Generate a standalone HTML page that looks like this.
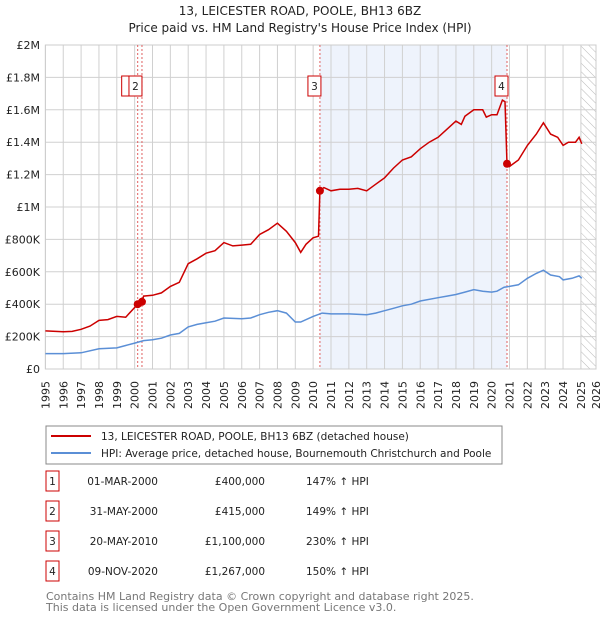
<!DOCTYPE html>
<html><head><meta charset="utf-8"><style>
body{margin:0;background:#fff;font-family:"Liberation Sans","DejaVu Sans",sans-serif;}
svg text{font-family:"DejaVu Sans","Liberation Sans",sans-serif;}
</style></head><body>
<svg width="600" height="620" viewBox="0 0 600 620" xmlns="http://www.w3.org/2000/svg">
<defs><pattern id="hatch" width="6" height="6" patternUnits="userSpaceOnUse" patternTransform="rotate(-45)"><line x1="0" y1="0" x2="0" y2="6" stroke="#bbb" stroke-width="1"/></pattern></defs>
<text x="300" y="15" text-anchor="middle" font-size="12" fill="#222">13, LEICESTER ROAD, POOLE, BH13 6BZ</text>
<text x="300" y="32" text-anchor="middle" font-size="12" fill="#222">Price paid vs. HM Land Registry's House Price Index (HPI)</text>
<g id="plot"></g>
<g>
<rect x="46" y="426" width="456" height="38" fill="#fff" stroke="#888"/>
<line x1="51" y1="436" x2="91" y2="436" stroke="#cc0000" stroke-width="2"/>
<text x="101" y="440" font-size="10.5" fill="#222">13, LEICESTER ROAD, POOLE, BH13 6BZ (detached house)</text>
<line x1="51" y1="453" x2="91" y2="453" stroke="#5b8fd6" stroke-width="2"/>
<text x="101" y="457" font-size="10.5" fill="#222">HPI: Average price, detached house, Bournemouth Christchurch and Poole</text>
</g>
<g id="table" font-size="10.5" fill="#222"></g>
<text x="46" y="600" font-size="11" fill="#777">Contains HM Land Registry data © Crown copyright and database right 2025.</text>
<text x="46" y="611" font-size="11" fill="#777">This data is licensed under the Open Government Licence v3.0.</text>
</svg>
<script>
const redYears=[1995,1996,1996.5,1997,1997.5,1998,1998.5,1999,1999.5,2000.17,2000.41,2000.5,2001,2001.5,2002,2002.5,2003,2003.5,2004,2004.5,2005,2005.5,2006,2006.5,2007,2007.5,2008,2008.5,2009,2009.3,2009.6,2010,2010.3,2010.38,2010.6,2011,2011.5,2012,2012.5,2013,2013.5,2014,2014.5,2015,2015.5,2016,2016.5,2017,2017.5,2018,2018.3,2018.5,2019,2019.5,2019.7,2020,2020.3,2020.6,2020.75,2020.86,2021,2021.5,2022,2022.5,2022.9,2023.3,2023.7,2024,2024.3,2024.7,2024.9,2025.05];
const redValues=[0.235,0.23,0.232,0.245,0.265,0.30,0.305,0.325,0.32,0.40,0.415,0.45,0.455,0.47,0.51,0.535,0.65,0.68,0.715,0.73,0.78,0.76,0.765,0.77,0.83,0.86,0.90,0.85,0.78,0.72,0.77,0.81,0.82,1.10,1.12,1.10,1.11,1.11,1.115,1.10,1.14,1.18,1.24,1.29,1.31,1.36,1.40,1.43,1.48,1.53,1.51,1.56,1.60,1.60,1.555,1.57,1.57,1.66,1.65,1.267,1.25,1.29,1.38,1.45,1.52,1.45,1.43,1.38,1.40,1.40,1.43,1.39];
const hpiYears=[1995,1996,1997,1998,1999,1999.5,2000,2000.5,2001,2001.5,2002,2002.5,2003,2003.5,2004,2004.5,2005,2006,2006.5,2007,2007.5,2008,2008.5,2009,2009.3,2010,2010.5,2011,2012,2013,2013.5,2014,2014.5,2015,2015.5,2016,2017,2017.5,2018,2018.5,2019,2019.5,2020,2020.3,2020.7,2021,2021.5,2022,2022.5,2022.9,2023.3,2023.8,2024,2024.5,2024.9,2025.05];
const hpiValues=[0.095,0.095,0.10,0.125,0.13,0.145,0.16,0.175,0.18,0.19,0.21,0.22,0.26,0.275,0.285,0.295,0.315,0.31,0.315,0.335,0.35,0.36,0.345,0.29,0.29,0.325,0.345,0.34,0.34,0.335,0.345,0.36,0.375,0.39,0.40,0.42,0.44,0.45,0.46,0.475,0.49,0.48,0.475,0.48,0.505,0.51,0.52,0.56,0.59,0.61,0.58,0.57,0.55,0.56,0.575,0.56];
const saleLabels=["1","2","3","4"];
const saleYears=[2000.17,2000.41,2010.38,2020.86];
const saleValues=[0.400,0.415,1.100,1.267];
const saleDates=["01-MAR-2000","31-MAY-2000","20-MAY-2010","09-NOV-2020"];
const salePrices=["£400,000","£415,000","£1,100,000","£1,267,000"];
const saleHpi=["147% ↑ HPI","149% ↑ HPI","230% ↑ HPI","150% ↑ HPI"];
const yTicks=[0,0.2,0.4,0.6,0.8,1.0,1.2,1.4,1.6,1.8,2.0];
const yTickLabels=["£0","£200K","£400K","£600K","£800K","£1M","£1.2M","£1.4M","£1.6M","£1.8M","£2M"];

const X0=45.4,Y0=369,Y1=45,XR=596;
const xs=y=>X0+(y-1995)*17.85;
const ys=v=>Y0-(v/2)*(Y0-Y1);
const NS="http://www.w3.org/2000/svg";
const plot=document.getElementById('plot');
function mk(tag,attrs,parent){const e=document.createElementNS(NS,tag);for(const k in attrs)e.setAttribute(k,attrs[k]);(parent||plot).appendChild(e);return e;}
let e;
e=mk('rect',{x:xs(2010.38),y:Y1,width:xs(2020.86)-xs(2010.38),height:Y0-Y1,fill:'#eef3fc'});


e=mk('rect',{x:xs(2025),y:Y1,width:XR-xs(2025),height:Y0-Y1,fill:'url(#hatch)'});


for(let yr=1995;yr<=2026;yr++){
 if(yr<2026){
 e=mk('line',{x1:xs(yr),x2:xs(yr),y1:Y1,y2:Y0,stroke:'#d0d0d0','stroke-width':1});
 
 }
 const tx=Math.min(xs(yr),596)+4;
 e=mk('text',{x:tx,y:Y0+12,'text-anchor':'end','font-size':11,fill:'#222',transform:`rotate(-90 ${tx} ${Y0+12})`});e.textContent=yr;
 
 
}
yTicks.forEach((v,i)=>{
 e=mk('line',{x1:X0,x2:XR,y1:ys(v),y2:ys(v),stroke:'#d0d0d0','stroke-width':1});
 
 
 e=mk('text',{x:40,y:ys(v)+4,'text-anchor':'end','font-size':11,fill:'#222'});e.textContent=yTickLabels[i];
 
 
});
e=mk('rect',{x:X0,y:Y1,width:XR-X0,height:Y0-Y1,fill:'none',stroke:'#ccc'});


saleYears.forEach((y,i)=>{
 e=mk('line',{x1:xs(y),x2:xs(y),y1:Y1,y2:Y0,stroke:'#e06060','stroke-width':1,'stroke-dasharray':'2,2'});
 
 
});
const path=(xa,va)=>xa.map((y,i)=>(i?'L':'M')+xs(y).toFixed(1)+','+ys(va[i]).toFixed(1)).join('');
e=mk('path',{d:path(hpiYears,hpiValues),fill:'none',stroke:'#5b8fd6','stroke-width':1.5});


e=mk('path',{d:path(redYears,redValues),fill:'none',stroke:'#cc0000','stroke-width':1.5});


saleYears.forEach((y,i)=>{
 e=mk('circle',{cx:xs(y),cy:ys(saleValues[i]),r:4,fill:'#cc0000'});
 
 
 const bx=i===0?xs(y)-10:(i===1?xs(y)-7:xs(y)-6);
 e=mk('rect',{x:bx-6,y:76,width:13,height:20,fill:'#fff',stroke:'#cc0000'});
 
 
 if(i>0){e=mk('text',{x:bx+0.5,y:90,'text-anchor':'middle','font-size':10.5,fill:'#222'});e.textContent=saleLabels[i];
 
 }
});
const tb=document.getElementById('table');
const rowY=[482,512,542,572];
saleLabels.forEach((l,i)=>{
 const y=rowY[i];
 e=mk('rect',{x:46,y:y-11,width:13,height:20,fill:'#fff',stroke:'#cc0000'},tb);
 
 
 e=mk('text',{x:52.5,y:y+3,'text-anchor':'middle'},tb);e.textContent=l;
 
 
 e=mk('text',{x:158,y:y+3,'text-anchor':'end'},tb);e.textContent=saleDates[i];
 
 
 e=mk('text',{x:265,y:y+3,'text-anchor':'end'},tb);e.textContent=salePrices[i];
 
 
 e=mk('text',{x:306,y:y+3},tb);e.textContent=saleHpi[i];
 
 
});
</script>
</body></html>
